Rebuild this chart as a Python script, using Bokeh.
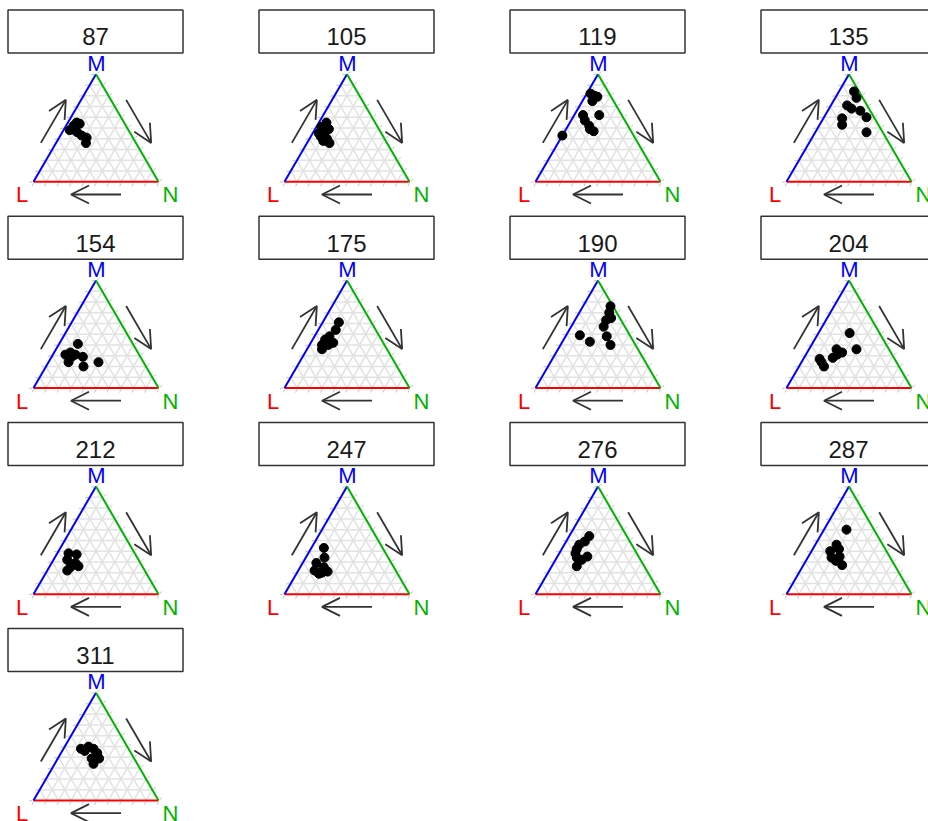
from bokeh.plotting import figure
from bokeh.models import Range1d, Arrow, OpenHead, ColumnDataSource
from bokeh.embed import file_html
from bokeh.resources import INLINE
from bokeh.core.properties import value

# ---------------- data (percent compositions L / M / N) ----------------
panel_labels = ["87", "105", "119", "135", "154", "175", "190", "204",
                "212", "247", "276", "287", "311"]

p87_L = [38, 42, 47, 42, 40, 37, 40, 36, 43]
p87_M = [55, 52, 48, 46, 43, 41, 36, 54, 48]
p87_N = [7, 6, 5, 12, 17, 22, 24, 10, 9]

p105_L = [39, 40, 45, 50, 50, 46, 46, 50, 45]
p105_M = [55, 49, 51, 45, 42, 40, 36, 38, 46]
p105_N = [6, 11, 4, 5, 8, 14, 18, 12, 9]

p119_L = [15, 13, 17, 11, 18, 31, 32, 31, 30, 57, 32]
p119_M = [82, 80, 75, 79, 62, 62, 57, 52, 47, 43, 49]
p119_N = [3, 7, 8, 10, 20, 7, 11, 17, 23, 0, 19]

p135_L = [4, 5, 16, 14, 8, 6, 26, 29, 13]
p135_M = [84, 78, 71, 68, 66, 60, 59, 53, 46]
p135_N = [12, 17, 13, 18, 26, 34, 15, 18, 41]

p154_L = [44, 59, 54, 51, 46, 60, 50, 36, 55]
p154_M = [41, 31, 33, 31, 29, 24, 20, 24, 29]
p154_N = [15, 10, 13, 18, 25, 16, 30, 40, 16]

p175_L = [26, 32, 40, 45, 50, 52, 40, 45]
p175_M = [61, 54, 48, 45, 40, 36, 42, 40]
p175_N = [13, 14, 12, 10, 10, 12, 18, 15]

p190_L = [2, 6, 12, 17, 40, 35, 19, 20, 7]
p190_M = [76, 70, 63, 57, 49, 43, 48, 40, 65]
p190_N = [22, 24, 25, 26, 11, 22, 33, 40, 28]

p204_L = [24, 26, 42, 39, 49, 60, 60, 60, 44]
p204_M = [51, 36, 36, 33, 28, 27, 20, 24, 31]
p204_N = [25, 38, 22, 28, 23, 13, 20, 16, 25]

p212_L = [53, 47, 57, 52, 58, 51, 62]
p212_M = [38, 37, 32, 29, 25, 26, 22]
p212_N = [9, 16, 11, 19, 17, 23, 16]

p247_L = [47, 51, 60, 65, 60, 55, 56, 63]
p247_M = [43, 34, 29, 22, 20, 21, 25, 19]
p247_N = [10, 15, 11, 13, 20, 24, 19, 18]

p276_L = [30, 36, 42, 46, 41, 50, 54, 47, 49]
p276_M = [54, 49, 46, 42, 35, 34, 26, 32, 38]
p276_N = [16, 15, 12, 12, 24, 16, 20, 21, 13]

p287_L = [22, 37, 45, 47, 40, 42, 45, 37]
p287_M = [60, 46, 40, 34, 35, 27, 31, 42]
p287_N = [18, 17, 15, 19, 25, 31, 24, 21]

p311_L = [38, 31, 28, 27, 28, 35, 34, 36]
p311_M = [48, 50, 48, 44, 39, 34, 39, 46]
p311_N = [14, 19, 24, 29, 33, 31, 27, 18]

panel_data = [
    (p87_L, p87_M, p87_N), (p105_L, p105_M, p105_N), (p119_L, p119_M, p119_N),
    (p135_L, p135_M, p135_N), (p154_L, p154_M, p154_N), (p175_L, p175_M, p175_N),
    (p190_L, p190_M, p190_N), (p204_L, p204_M, p204_N), (p212_L, p212_M, p212_N),
    (p247_L, p247_M, p247_N), (p276_L, p276_M, p276_N), (p287_L, p287_M, p287_N),
    (p311_L, p311_M, p311_N),
]

grid_breaks = [0.1, 0.2, 0.3, 0.4, 0.5, 0.6, 0.7, 0.8, 0.9]
vertex_names = ["L", "M", "N"]
vertex_colors = ["#ff0000", "#0000ff", "#00b300"]

# ---------------- layout ----------------
W, H = 928, 821
NCOL = 4
COL_STEP, ROW_STEP = 251.0, 206.2
TRI_W, TRI_H = 125.0, 107.6
ORIG_X, ORIG_Y = 33.0, 181.3          # L vertex of first panel
STRIP_X0, STRIP_Y0, STRIP_W, STRIP_H = 7.5, 9.5, 175.0, 43.0
FONT = "Liberation Sans"

p = figure(width=W, height=H, x_range=Range1d(0, W), y_range=Range1d(H, 0),
           output_backend="svg", toolbar_location=None, min_border=0,
           x_axis_location=None, y_axis_location=None)
p.outline_line_color = None
p.background_fill_color = "white"
p.border_fill_color = "white"
p.xgrid.visible = False
p.ygrid.visible = False


def origin(i):
    r, c = divmod(i, NCOL)
    return ORIG_X + COL_STEP * c, ORIG_Y + ROW_STEP * r


def tern(ox, oy, L, M, N):
    s = L + M + N
    m = M / s
    n = N / s
    return ox + TRI_W * (n + m / 2.0), oy - TRI_H * m


grid = dict(x0=[], y0=[], x1=[], y1=[])
ticks = dict(x0=[], y0=[], x1=[], y1=[])
edges = {k: dict(x0=[], y0=[], x1=[], y1=[]) for k in range(3)}
arrows = dict(x0=[], y0=[], x1=[], y1=[])
pts = dict(x=[], y=[])
lab = dict(x=[], y=[], t=[], c=[])
strips = dict(l=[], r=[], t=[], b=[], x=[], y=[], txt=[])

OFF = 13.2
for i, name in enumerate(panel_labels):
    ox, oy = origin(i)
    r, c = divmod(i, NCOL)
    vL = tern(ox, oy, 1, 0, 0)
    vM = tern(ox, oy, 0, 1, 0)
    vN = tern(ox, oy, 0, 0, 1)

    for b in grid_breaks:
        for a0, a1 in [((1 - b, b, 0), (0, b, 1 - b)),
                       ((b, 1 - b, 0), (b, 0, 1 - b)),
                       ((1 - b, 0, b), (0, 1 - b, b))]:
            xa, ya = tern(ox, oy, *a0)
            xb, yb = tern(ox, oy, *a1)
            grid["x0"].append(xa); grid["y0"].append(ya)
            grid["x1"].append(xb); grid["y1"].append(yb)

    # edges: bottom (L-N) red, left (L-M) blue, right (M-N) green
    for k, (pa, pb) in enumerate([(vL, vN), (vL, vM), (vM, vN)]):
        edges[k]["x0"].append(pa[0]); edges[k]["y0"].append(pa[1])
        edges[k]["x1"].append(pb[0]); edges[k]["y1"].append(pb[1])

    # ticks outside each edge
    for b in [0.0] + grid_breaks + [1.0]:
        x, y = tern(ox, oy, 1 - b, 0, b)
        ticks["x0"].append(x); ticks["y0"].append(y + 1.5)
        ticks["x1"].append(x - 1.5); ticks["y1"].append(y + 4.5)
        x, y = tern(ox, oy, 1 - b, b, 0)
        ticks["x0"].append(x - 1.5); ticks["y0"].append(y)
        ticks["x1"].append(x - 4.5); ticks["y1"].append(y + 0.5)
        x, y = tern(ox, oy, 0, 1 - b, b)
        ticks["x0"].append(x + 1.3); ticks["y0"].append(y - 0.8)
        ticks["x1"].append(x + 3.8); ticks["y1"].append(y - 2.8)

    # arrows parallel to edges, offset outward
    for (pa, pb, nx, ny) in [(vL, vM, -0.864, -0.503),
                             (vM, vN, 0.864, -0.503),
                             (vN, vL, 0.0, 1.0)]:
        off = OFF if ny < 0 else 12.7
        xs = pa[0] + 0.3 * (pb[0] - pa[0]) + off * nx
        ys = pa[1] + 0.3 * (pb[1] - pa[1]) + off * ny
        xe = pa[0] + 0.7 * (pb[0] - pa[0]) + off * nx
        ye = pa[1] + 0.7 * (pb[1] - pa[1]) + off * ny
        arrows["x0"].append(xs); arrows["y0"].append(ys)
        arrows["x1"].append(xe); arrows["y1"].append(ye)

    Ls, Ms, Ns = panel_data[i]
    for a, m, n in zip(Ls, Ms, Ns):
        x, y = tern(ox, oy, a, m, n)
        pts["x"].append(x); pts["y"].append(y)

    for (vx, vy), dx, dy, t, col in [(vL, -11.3, 13.0, "L", vertex_colors[0]),
                                     (vM, 0.5, -11.0, "M", vertex_colors[1]),
                                     (vN, 12.0, 13.0, "N", vertex_colors[2])]:
        lab["x"].append(vx + dx); lab["y"].append(vy + dy)
        lab["t"].append(t); lab["c"].append(col)

    sx = STRIP_X0 + COL_STEP * c
    sy = STRIP_Y0 + ROW_STEP * r
    strips["l"].append(sx); strips["r"].append(sx + STRIP_W)
    strips["t"].append(sy); strips["b"].append(sy + STRIP_H)
    strips["x"].append(sx + STRIP_W / 2.0); strips["y"].append(sy + 26.8)
    strips["txt"].append(name)

p.segment(x0="x0", y0="y0", x1="x1", y1="y1", source=ColumnDataSource(grid),
          line_color="#e2e2e2", line_width=1.5)
p.segment(x0="x0", y0="y0", x1="x1", y1="y1", source=ColumnDataSource(ticks),
          line_color="#c4c4c4", line_width=1.0)
for k, col in zip(range(3), ["#ff0000", "#0000ff", "#00b300"]):
    p.segment(x0="x0", y0="y0", x1="x1", y1="y1", source=ColumnDataSource(edges[k]),
              line_color=col, line_width=2.0)

p.scatter(x="x", y="y", source=ColumnDataSource(pts), size=9,
          fill_color="black", line_color="black")

p.add_layout(Arrow(end=OpenHead(size=18, line_color="#333333", line_width=1.8),
                   x_start="x0", y_start="y0", x_end="x1", y_end="y1",
                   source=ColumnDataSource(arrows),
                   line_color="#333333", line_width=1.8))

p.text(x="x", y="y", text="t", source=ColumnDataSource(lab), text_color="c",
       text_font=value(FONT), text_font_size="22px",
       text_align="center", text_baseline="middle")

p.quad(left="l", right="r", top="t", bottom="b", source=ColumnDataSource(strips),
       fill_color="white", line_color="#333333", line_width=1.5)
p.text(x="x", y="y", text="txt", source=ColumnDataSource(strips),
       text_font=value(FONT), text_font_size="24px", text_color="#1a1a1a",
       text_align="center", text_baseline="middle")

open("out.html", "w").write(file_html(p, INLINE))
